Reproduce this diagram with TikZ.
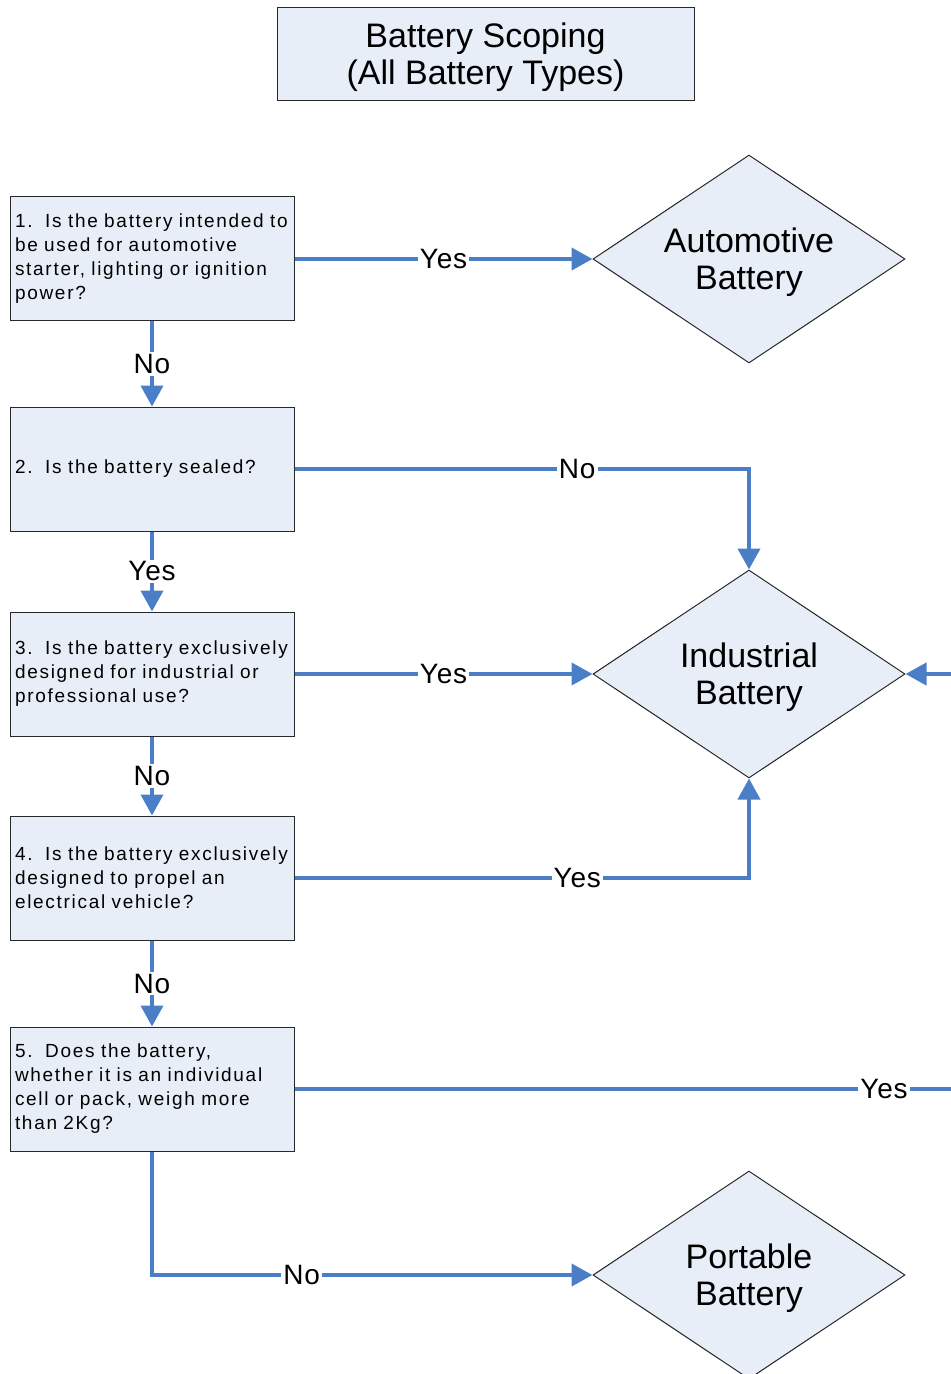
\documentclass[tikz,border=0pt]{standalone}
\usepackage{fontspec}
\setmainfont{Liberation Sans}
\newfontfamily\boxfont[LetterSpace=9,WordSpace=1.4]{Liberation Sans}
\newfontfamily\lblfont[LetterSpace=3]{Liberation Sans}
\usetikzlibrary{shapes.geometric,arrows.meta}
\definecolor{boxfill}{RGB}{232,238,247}
\definecolor{arrowblue}{RGB}{74,126,198}
\definecolor{edgegray}{RGB}{40,40,40}
\newcommand{\bline}[1]{\mbox{#1}}
\newcommand{\dtext}[2][-2.5pt]{\raisebox{#1}[\height][\depth]{\begin{tabular}{@{}c@{}}#2\end{tabular}}}
\begin{document}
\begin{tikzpicture}[x=0.5pt,y=-0.5pt,
  qbox/.style={draw=edgegray,line width=0.5pt,fill=boxfill,rectangle,
    text width=137pt,inner xsep=2.5pt,minimum height=62pt,align=left,
    font=\boxfont\fontsize{9.5}{12}\selectfont},
  dia/.style={draw=edgegray,line width=0.5pt,fill=boxfill,diamond,aspect=1.5,
    minimum width=156pt,minimum height=104pt,inner sep=0pt,
    font=\fontsize{17}{18.5}\selectfont},
  arr/.style={draw=arrowblue,line width=2pt,-{Triangle[length=10.5pt,width=11pt]}},
  lbl/.style={fill=white,inner sep=1pt,text=black,font=\lblfont\fontsize{14}{16}\selectfont}]
\clip (0,0) rectangle (951,1374);

\node[draw=edgegray,line width=0.5pt,fill=boxfill,minimum width=208.5pt,minimum height=46.5pt,
  font=\fontsize{17}{18.5}\selectfont] (title) at (485.5,54.5)
  {\dtext[-2pt]{Battery Scoping\\(All Battery Types)}};

\node[qbox] (b1) at (152,259) {\bline{1.~~Is the battery intended to}\\\bline{be used for automotive}\\\bline{starter, lighting or ignition}\\\bline{power?}};
\node[qbox] (b2) at (152,469) {\bline{2.~~Is the battery sealed?}};
\node[qbox] (b3) at (152,674) {\bline{3.~~Is the battery exclusively}\\\bline{designed for industrial or}\\\bline{professional use?}};
\node[qbox] (b4) at (152,878) {\bline{4.~~Is the battery exclusively}\\\bline{designed to propel an}\\\bline{electrical vehicle?}};
\node[qbox] (b5) at (152,1089) {\bline{5.~~Does the battery,}\\\bline{whether it is an individual}\\\bline{cell or pack, weigh more}\\\bline{than 2Kg?}};

\node[dia] (auto) at (749,259) {\dtext{Automotive\\Battery}};
\node[dia] (ind) at (749,674) {\dtext{Industrial\\Battery}};
\node[dia] (port) at (749,1275) {\dtext{Portable\\Battery}};

\coordinate (rt) at (980,1089);

\draw[arr] (b1.east) -- node[lbl]{Yes} (auto.west);
\draw[arr] (b1.south) -- node[lbl]{No} (b2.north);
\draw[arr] (b2.east) -| node[lbl,pos=0.311]{No} (ind.north);
\draw[arr] (b2.south) -- node[lbl]{Yes} (b3.north);
\draw[arr] (b3.east) -- node[lbl]{Yes} (ind.west);
\draw[arr] (b3.south) -- node[lbl]{No} (b4.north);
\draw[arr] (b4.east) -| node[lbl,pos=0.311]{Yes} (ind.south);
\draw[arr] (b4.south) -- node[lbl]{No} (b5.north);
\draw[arr] (b5.east) -- node[lbl,pos=0.86]{Yes} (rt) |- (ind.east);
\draw[arr] (b5.south) |- node[lbl,pos=0.67]{No} (port.west);
\end{tikzpicture}
\end{document}
